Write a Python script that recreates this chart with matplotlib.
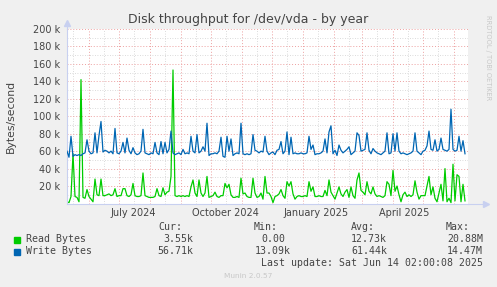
import numpy as np
import matplotlib
matplotlib.use('Agg')
import matplotlib.pyplot as plt
import pandas as pd

# daily samples every 2 days, values in kB/s
start_date = '2024-05-10'
end_date = '2025-06-15'

read_k = [
    2, 1, 8, 57, 8, 7, 2, 142, 7, 6,
    16, 8, 5, 2, 28, 10, 9, 28, 9, 9,
    10, 11, 9, 10, 17, 8, 9, 9, 17, 17,
    9, 8, 10, 23, 9, 8, 8, 9, 35, 9,
    8, 7, 7, 7, 8, 17, 9, 8, 18, 10,
    13, 14, 31, 153, 9, 8, 9, 8, 9, 8,
    9, 8, 19, 27, 12, 8, 27, 12, 8, 12,
    31, 7, 8, 9, 13, 8, 7, 9, 9, 23,
    18, 22, 10, 7, 7, 8, 7, 29, 11, 12,
    8, 7, 7, 29, 12, 7, 8, 12, 5, 31,
    12, 12, 8, 1, 8, 9, 11, 16, 9, 6,
    25, 20, 25, 11, 5, 8, 9, 8, 8, 9,
    8, 25, 14, 19, 8, 8, 9, 8, 8, 15,
    9, 27, 13, 9, 5, 12, 19, 11, 8, 13,
    16, 7, 19, 9, 6, 27, 35, 15, 13, 10,
    25, 14, 11, 19, 11, 8, 9, 8, 7, 9,
    25, 22, 9, 38, 14, 20, 10, 2, 10, 13,
    8, 10, 8, 10, 26, 13, 5, 9, 9, 9,
    20, 31, 10, 19, 6, 2, 12, 22, 3, 40,
    2, 6, 1, 45, 3, 33, 31, 2, 22, 3,
]

write_k = [
    60, 53, 77, 54, 56, 55, 56, 55, 57, 58,
    73, 60, 57, 58, 81, 58, 78, 94, 59, 61,
    60, 58, 60, 57, 86, 58, 57, 60, 70, 58,
    75, 61, 57, 64, 58, 56, 57, 60, 85, 58,
    57, 56, 58, 57, 70, 58, 56, 71, 57, 70,
    58, 62, 83, 58, 56, 57, 58, 56, 62, 57,
    58, 57, 77, 60, 58, 79, 58, 60, 65, 60,
    92, 55, 57, 57, 58, 57, 60, 76, 54, 53,
    77, 60, 74, 55, 57, 58, 57, 92, 57, 56,
    57, 56, 57, 79, 61, 60, 58, 60, 59, 77,
    60, 56, 58, 59, 56, 61, 62, 71, 57, 60,
    82, 56, 76, 57, 58, 57, 57, 58, 57, 57,
    58, 77, 62, 67, 56, 57, 57, 58, 60, 74,
    58, 82, 89, 57, 61, 55, 67, 61, 58, 60,
    62, 65, 56, 58, 60, 81, 78, 60, 61, 62,
    81, 61, 57, 63, 60, 58, 57, 56, 58, 60,
    81, 57, 58, 80, 60, 81, 60, 57, 58, 57,
    56, 57, 58, 60, 81, 60, 58, 56, 60, 61,
    66, 83, 62, 61, 73, 60, 62, 75, 62, 61,
    60, 62, 108, 62, 60, 61, 77, 60, 72, 57,
]

yticks = [20, 40, 60, 80, 100, 120, 140, 160, 180, 200]
month_labels = ['July 2024', 'October 2024', 'January 2025', 'April 2025']
month_label_dates = ['2024-07-15', '2024-10-15', '2025-01-14', '2025-04-12']

legend_names = ['Read Bytes', 'Write Bytes']
legend_colors = ['#00CC00', '#0066B3']
cur_vals = ['3.55k', '56.71k']
min_vals = ['0.00', '13.09k']
avg_vals = ['12.73k', '61.44k']
max_vals = ['20.88M', '14.47M']

W, H = 497, 287
def fx(px):
    return px / W
def fy(py):
    return 1 - py / H

text_col = '#444444'
axis_col = '#C8D0F0'

fig = plt.figure(figsize=(W / 100, H / 100), dpi=100, facecolor='#F0F0F0')
ax = fig.add_axes([fx(67), fy(203.5), fx(468) - fx(67), fy(29) - fy(203.5)])
ax.set_facecolor('white')

dates = pd.date_range(start_date, periods=len(read_k), freq='2D')
x0 = pd.Timestamp(start_date)
x1 = pd.Timestamp(end_date)

# grid: month starts red, mid-month gray
for d in pd.date_range('2024-05-16', end_date, freq='MS') + pd.Timedelta(days=15):
    ax.axvline(d, color='#CFCFCF', lw=0.6, ls=(0, (1, 2)), zorder=0)
for d in pd.date_range('2024-06-01', end_date, freq='MS'):
    ax.axvline(d, color='#EDA0A0', lw=0.7, ls=(0, (1, 2)), zorder=0)
ax.axvline(pd.Timestamp('2024-05-16'), color='#CFCFCF', lw=0.6, ls=(0, (1, 2)), zorder=0)
for v in range(10, 200, 20):
    ax.axhline(v * 1000, color='#CFCFCF', lw=0.6, ls=(0, (1, 2)), zorder=0)
for v in yticks:
    ax.axhline(v * 1000, color='#EDA0A0', lw=0.7, ls=(0, (1, 2)), zorder=0)

ax.plot(dates, np.array(read_k) * 1000, color=legend_colors[0], lw=0.9, zorder=2)
ax.plot(dates, np.array(write_k) * 1000, color=legend_colors[1], lw=0.9, zorder=3)

ax.set_xlim(x0, x1)
ax.set_ylim(0, 200000)
ax.set_yticks([v * 1000 for v in yticks])
ax.set_yticklabels([f'{v} k' for v in yticks])
ax.set_xticks(pd.to_datetime(month_label_dates))
ax.set_xticklabels(month_labels)
ax.tick_params(axis='both', length=0, labelsize=7, colors=text_col)
ax.tick_params(axis='y', pad=5)
ax.tick_params(axis='x', pad=3)

for s in ['top', 'right']:
    ax.spines[s].set_visible(False)
for s in ['left', 'bottom']:
    ax.spines[s].set_color(axis_col)
    ax.spines[s].set_linewidth(0.8)

# axis arrows
ax.plot([1, 1.045], [0, 0], transform=ax.transAxes, clip_on=False, color=axis_col, lw=0.8)
ax.plot(1.045, 0, transform=ax.transAxes, clip_on=False, marker='>', ms=4, color=axis_col)
ax.plot([0, 0], [1, 1.035], transform=ax.transAxes, clip_on=False, color=axis_col, lw=0.8)
ax.plot(0, 1.035, transform=ax.transAxes, clip_on=False, marker='^', ms=4, color=axis_col)

fig.text(fx(248.5), fy(19), 'Disk throughput for /dev/vda - by year', ha='center', va='center',
         fontsize=9, color=text_col)
fig.text(fx(11), fy(116), 'Bytes/second', rotation=90, ha='center', va='center',
         fontsize=7.8, color=text_col)
fig.text(fx(488), fy(58), 'RRDTOOL / TOBI OETIKER', rotation=270, ha='center', va='center',
         fontsize=4.8, color='#C8C8C8')

mono = 'DejaVu Sans Mono'
fs = 7.1
for lab, xr in zip(['Cur:', 'Min:', 'Avg:', 'Max:'], [182, 278, 375, 470]):
    fig.text(fx(xr), fy(227), lab, ha='right', va='center', family=mono, fontsize=fs, color=text_col)
for i, row_y in enumerate([239.5, 251.5]):
    fig.patches.append(plt.Rectangle((fx(14), fy(242.5 + 12 * i)), fx(6), 6 / H,
                                     transform=fig.transFigure, color=legend_colors[i]))
    fig.text(fx(26), fy(row_y), legend_names[i], ha='left', va='center', family=mono,
             fontsize=fs, color=text_col)
    for vals, xr in zip([cur_vals, min_vals, avg_vals, max_vals], [193, 291, 387, 483]):
        txt = vals[i]
        if txt == '0.00':
            xr = 285
        fig.text(fx(xr), fy(row_y), txt, ha='right', va='center', family=mono,
                 fontsize=fs, color=text_col)
fig.text(fx(483), fy(263.5), 'Last update: Sat Jun 14 02:00:08 2025', ha='right', va='center',
         family=mono, fontsize=fs, color=text_col)
fig.text(fx(248), fy(276), 'Munin 2.0.57', ha='center', va='center', fontsize=5.3, color='#C8C8C8')

fig.savefig('out.png', dpi=100, facecolor=fig.get_facecolor())
